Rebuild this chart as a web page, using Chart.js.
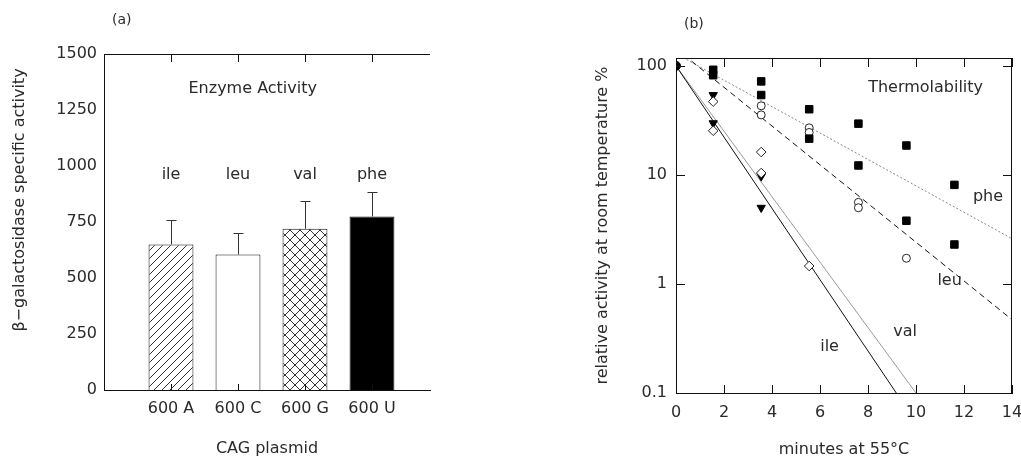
<!DOCTYPE html>
<html>
<head>
<meta charset="utf-8">
<script src="https://cdn.jsdelivr.net/npm/chart.js@4.4.1/dist/chart.umd.min.js"></script>
<style>
  html, body { margin: 0; padding: 0; background: #fff; }
  #wrap { position: relative; width: 1021px; height: 459px; overflow: hidden; }
  canvas { position: absolute; top: 0; }
  #activityChart { left: 0; }
  #thermoChart { left: 500px; }
</style>
</head>
<body>
<div id="wrap">
  <canvas id="activityChart" width="470" height="459"></canvas>
  <canvas id="thermoChart" width="541" height="459"></canvas>
</div>
<script>
// Panel (a): enzyme activity per plasmid
const plasmids = ['600 A', '600 C', '600 G', '600 U'];
const aminoAcids = ['ile', 'leu', 'val', 'phe'];
const activity = [650, 605, 720, 775];
const activityError = [110, 95, 125, 110];

// Panel (b): thermolability, % activity left after minutes at 55°C
const startMinutes = [0];
const startActivity = [100];
const pheMinutes = [1.55, 1.55, 3.55, 3.55, 5.55, 5.55, 7.6, 7.6, 9.6, 9.6, 11.6, 11.6];
const pheActivity = [92, 82, 72, 54, 40, 21.5, 29.5, 12.2, 18.6, 3.8, 8.1, 2.3];
const leuMinutes = [3.55, 3.55, 5.55, 5.55, 7.6, 7.6, 9.6];
const leuActivity = [43, 35.5, 27, 24.5, 5.6, 5.0, 1.72];
const valMinutes = [1.55, 1.55, 3.55, 3.55, 5.55];
const valActivity = [47, 25.4, 16.2, 10.4, 1.46];
const ileMinutes = [1.55, 1.55, 3.55, 3.55];
const ileActivity = [54, 29.8, 9.7, 5.0];

// fitted decay lines (end points)
const pheFitX = [0, 14];
const pheFitY = [129, 2.6];
const leuFitX = [0, 14];
const leuFitY = [144, 0.47];
const valFitX = [0, 10.0];
const valFitY = [100, 0.1];
const ileFitX = [0, 9.18];
const ileFitY = [100, 0.1];

const minuteTicks = [0, 2, 4, 6, 8, 10, 12, 14];
const percentTicks = [0.1, 1, 10, 100];

Chart.defaults.font.family = '"DejaVu Sans", "Liberation Sans", sans-serif';
Chart.defaults.font.size = 16;
Chart.defaults.color = '#2a2a2a';

const points = (xs, ys) => xs.map((x, i) => ({ x, y: ys[i] }));

function makePattern(cross) {
  const s = cross ? 10 : 8;
  const c = document.createElement('canvas');
  c.width = s;
  c.height = s;
  const g = c.getContext('2d');
  g.fillStyle = '#fff';
  g.fillRect(0, 0, s, s);
  g.strokeStyle = '#333';
  g.lineWidth = 1;
  g.beginPath();
  g.moveTo(-1, s + 1); g.lineTo(s + 1, -1);
  g.moveTo(-2, 2); g.lineTo(2, -2);
  g.moveTo(s - 2, s + 2); g.lineTo(s + 2, s - 2);
  if (cross) {
    g.moveTo(-1, -1); g.lineTo(s + 1, s + 1);
    g.moveTo(-2, s - 2); g.lineTo(2, s + 2);
    g.moveTo(s - 2, -2); g.lineTo(s + 2, 2);
  }
  g.stroke();
  return g.createPattern(c, 'repeat');
}

// text placed in data coordinates
const notesPlugin = {
  id: 'notes',
  afterDatasetsDraw(chart, args, opts) {
    const { ctx, chartArea: a, scales: { x, y } } = chart;
    ctx.save();
    ctx.fillStyle = '#2a2a2a';
    ctx.font = '16px "DejaVu Sans", sans-serif';
    ctx.textAlign = 'center';
    ctx.textBaseline = 'middle';
    opts.items.forEach(n => {
      ctx.fillText(n.text, x.getPixelForValue(n.x), y.getPixelForValue(n.y));
    });
    // panel tag, e.g. "(a)"
    ctx.font = '14px "DejaVu Sans", sans-serif';
    ctx.textAlign = 'left';
    ctx.fillText(opts.tag, a.left + 8, a.top - 34);
    // rotated side title when drawn by hand
    if (opts.sideTitle) {
      ctx.font = '16px "DejaVu Sans", sans-serif';
      ctx.textAlign = 'center';
      ctx.translate(opts.sideTitle.x, (a.top + a.bottom) / 2 + opts.sideTitle.dy);
      ctx.rotate(-Math.PI / 2);
      ctx.fillText(opts.sideTitle.text, 0, 0);
    }
    ctx.restore();
  }
};

// top/right frame and inward tick marks
const framePlugin = {
  id: 'frame',
  afterDraw(chart, args, opts) {
    const { ctx, chartArea: a, scales: { x, y } } = chart;
    ctx.save();
    ctx.strokeStyle = '#111';
    ctx.lineWidth = 1;
    ctx.beginPath();
    ctx.moveTo(a.left, a.top + 0.5);
    ctx.lineTo(a.right, a.top + 0.5);
    if (opts.right) {
      ctx.moveTo(a.right - 0.5, a.top);
      ctx.lineTo(a.right - 0.5, a.bottom);
    }
    opts.xTicks.forEach(v => {
      const px = Math.round(x.getPixelForValue(v)) + 0.5;
      ctx.moveTo(px, a.top);
      ctx.lineTo(px, a.top + opts.len);
      ctx.moveTo(px, a.bottom);
      ctx.lineTo(px, a.bottom - opts.bottomLen);
    });
    opts.yTicks.forEach(v => {
      const py = Math.round(y.getPixelForValue(v)) + 0.5;
      ctx.moveTo(a.left, py);
      ctx.lineTo(a.left + opts.len, py);
      if (opts.right) {
        ctx.moveTo(a.right, py);
        ctx.lineTo(a.right - opts.len, py);
      }
    });
    ctx.stroke();
    ctx.restore();
  }
};

const errorBarPlugin = {
  id: 'errorBars',
  afterDatasetsDraw(chart) {
    const { ctx, scales: { y } } = chart;
    const meta = chart.getDatasetMeta(0);
    ctx.save();
    ctx.strokeStyle = '#333';
    ctx.lineWidth = 1;
    ctx.beginPath();
    meta.data.forEach((bar, i) => {
      const px = Math.round(bar.x) + 0.5;
      const top = Math.round(y.getPixelForValue(activity[i] + activityError[i])) + 0.5;
      ctx.moveTo(px, bar.y);
      ctx.lineTo(px, top);
      ctx.moveTo(px - 5, top);
      ctx.lineTo(px + 5, top);
    });
    ctx.stroke();
    ctx.restore();
  }
};

function renderActivity() {
  const canvas = document.getElementById('activityChart');
  new Chart(canvas, {
    type: 'bar',
    data: {
      datasets: [{
        data: points(plasmids.map((_, i) => i + 1), activity),
        backgroundColor: [makePattern(false), '#fff', makePattern(true), '#000'],
        borderColor: '#111',
        borderWidth: 1,
        borderSkipped: 'start',
        barPercentage: 0.67,
        categoryPercentage: 1
      }]
    },
    options: {
      responsive: false,
      animation: false,
      layout: { padding: { left: 0, top: 54, right: 40, bottom: 0 } },
      plugins: {
        legend: { display: false },
        tooltip: { enabled: false },
        notes: {
          tag: '(a)',
          items: [{ text: 'Enzyme Activity', x: 2.22, y: 1344 }]
            .concat(aminoAcids.map((t, i) => ({ text: t, x: i + 1, y: 960 }))),
          sideTitle: { text: 'β−galactosidase specific activity', x: 20, dy: -22 }
        },
        frame: { right: false, xTicks: [1, 2, 3, 4], yTicks: [], len: 8, bottomLen: 6 }
      },
      scales: {
        x: {
          type: 'linear',
          offset: false,
          min: 0,
          max: 4.866,
          grid: { display: false, drawTicks: false, offset: false },
          border: { display: true, color: '#111' },
          ticks: { padding: 9, callback: v => plasmids[v - 1] },
          afterBuildTicks: s => { s.ticks = plasmids.map((_, i) => ({ value: i + 1 })); },
          afterFit: s => { s.height = 69; },
          title: { display: true, text: 'CAG plasmid', padding: { top: 0, bottom: 1 } }
        },
        y: {
          min: 0,
          max: 1500,
          grid: { display: false, drawTicks: false },
          border: { display: true, color: '#111' },
          ticks: { stepSize: 250, padding: 7, callback: v => String(v) },
          afterFit: s => { s.width = 104; }
        }
      }
    },
    plugins: [notesPlugin, framePlugin, errorBarPlugin]
  });
}

function renderThermo() {
  const canvas = document.getElementById('thermoChart');
  const fitLine = (xs, ys, color, dash) => ({
    data: points(xs, ys),
    showLine: true,
    pointRadius: 0,
    borderColor: color,
    borderWidth: 1,
    borderDash: dash,
    fill: false
  });
  new Chart(canvas, {
    type: 'scatter',
    data: {
      datasets: [
        { data: points(startMinutes, startActivity), pointStyle: 'circle', pointRadius: 4.5,
          backgroundColor: '#000', borderColor: '#000', borderWidth: 1 },
        { data: points(pheMinutes, pheActivity), pointStyle: 'rect', pointRadius: 5.3,
          backgroundColor: '#000', borderColor: '#000', borderWidth: 1 },
        { data: points(leuMinutes, leuActivity), pointStyle: 'circle', pointRadius: 4,
          backgroundColor: '#fff', borderColor: '#222', borderWidth: 1 },
        { data: points(valMinutes, valActivity), pointStyle: 'rectRot', pointRadius: 4.8,
          backgroundColor: '#fff', borderColor: '#222', borderWidth: 1 },
        { data: points(ileMinutes, ileActivity), pointStyle: 'triangle', pointRadius: 4.8,
          pointRotation: 180, backgroundColor: '#000', borderColor: '#000', borderWidth: 1 },
        fitLine(ileFitX, ileFitY, '#111', []),
        fitLine(valFitX, valFitY, '#999', []),
        fitLine(leuFitX, leuFitY, '#111', [6, 4]),
        fitLine(pheFitX, pheFitY, '#888', [2, 2])
      ]
    },
    options: {
      responsive: false,
      animation: false,
      layout: { padding: { left: 80, top: 58, right: 29, bottom: 0 } },
      plugins: {
        legend: { display: false },
        tooltip: { enabled: false },
        notes: {
          tag: '(b)',
          items: [
            { text: 'Thermolability', x: 10.4, y: 63 },
            { text: 'phe', x: 13.0, y: 6.3 },
            { text: 'leu', x: 11.4, y: 1.07 },
            { text: 'val', x: 9.55, y: 0.365 },
            { text: 'ile', x: 6.4, y: 0.266 }
          ]
        },
        frame: { right: true, xTicks: minuteTicks, yTicks: percentTicks, len: 9, bottomLen: 8 }
      },
      scales: {
        x: {
          type: 'linear',
          min: 0,
          max: 14,
          grid: { display: false, drawTicks: false },
          border: { display: true, color: '#111' },
          ticks: { padding: 10 },
          afterBuildTicks: s => { s.ticks = minuteTicks.map(v => ({ value: v })); },
          afterFit: s => { s.height = 66; },
          title: { display: true, text: 'minutes at 55°C', padding: { top: 0, bottom: 0 } }
        },
        y: {
          type: 'logarithmic',
          min: 0.1,
          max: 118,
          grid: { display: false, drawTicks: false },
          border: { display: true, color: '#111' },
          ticks: { padding: 9, callback: v => String(v) },
          afterBuildTicks: s => { s.ticks = percentTicks.map(v => ({ value: v })); },
          afterFit: s => { s.width = 96; },
          title: { display: true, text: 'relative activity at room temperature %', padding: { top: 13, bottom: 0 } }
        }
      }
    },
    plugins: [notesPlugin, framePlugin]
  });
}

document.addEventListener('DOMContentLoaded', () => {
  renderActivity();
  renderThermo();
});
</script>
</body>
</html>
